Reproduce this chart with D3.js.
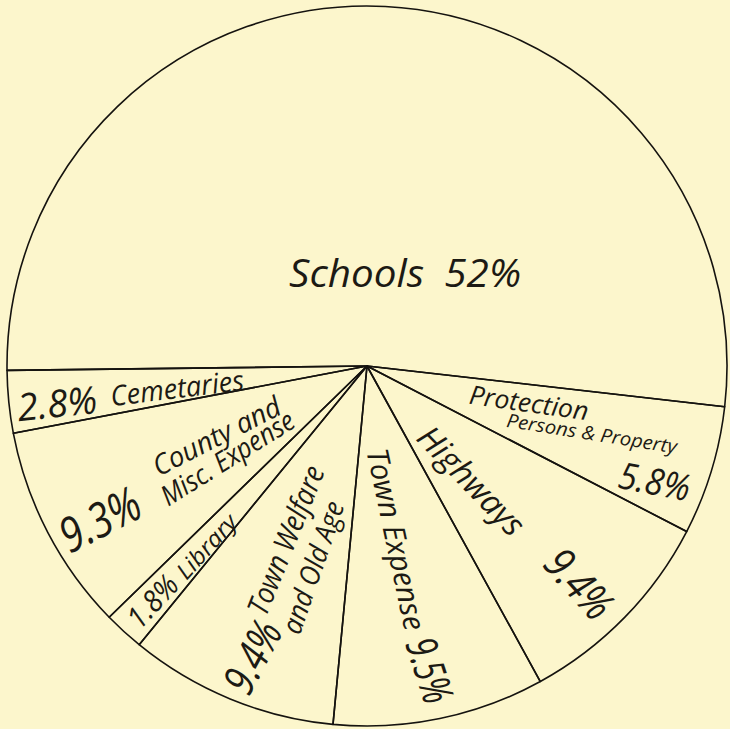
<!DOCTYPE html>
<html>
<head>
<meta charset="utf-8">
<script src="https://cdn.jsdelivr.net/npm/d3@7"></script>
<style>
  body { margin: 0; background: #fcf6cc; }
  #chart text {
    font-family: 'Open Sans', 'DejaVu Sans', sans-serif;
    font-style: italic;
    font-weight: 400;
    fill: #1c1a14;
  }
</style>
</head>
<body>
<div id="chart"></div>
<script>
// town expenditure shares (per cent)
const categories = ['Schools', 'Protection', 'Highways', 'Town Expense', 'Town Welfare', 'Library', 'County', 'Cemetaries'];
const shares = [52, 5.8, 9.4, 9.5, 9.4, 1.8, 9.3, 2.8];
const shareLabels = ['52%', '5.8%', '9.4%', '9.5%', '9.4%', '1.8%', '9.3%', '2.8%'];
const nameLines = [
  ['Schools'],
  ['Protection', 'Persons & Property'],
  ['Highways'],
  ['Town Expense'],
  ['Town Welfare', 'and Old Age'],
  ['Library'],
  ['County and', 'Misc. Expense'],
  ['Cemetaries']
];

// hand placement of the lettering: angle offset from slice middle (deg),
// distance as share of radius, rotation, font size, drawn length
const lettering = {
  'Schools': [{k: 'all', da: 19.1, rr: .282, rot: 0, size: 39, len: 232}],
  'Protection': [
    {k: 0, da: -4.4, rr: .461, rot: 8, size: 26, len: 120},
    {k: 1, da: -0.3, rr: .652, rot: 9, size: 19, len: 172},
    {k: 'pct', da: 4.7, rr: .860, rot: 11, size: 37, len: 72}],
  'Highways': [
    {k: 0, da: 3.1, rr: .431, rot: 46, size: 33, len: 138},
    {k: 'pct', da: 1.2, rr: .845, rot: 48, size: 44, len: 78}],
  'Town Expense': [
    {k: 0, da: 1.9, rr: .488, rot: 78, size: 30, len: 185},
    {k: 'pct', da: -0.2, rr: .862, rot: 72, size: 43, len: 66}],
  'Town Welfare': [
    {k: 'pct', da: -0.6, rr: .868, rot: -62, size: 44, len: 75},
    {k: 0, da: 2.9, rr: .534, rot: -68, size: 30, len: 158},
    {k: 1, da: -7.0, rr: .579, rot: -71, size: 28, len: 138}],
  'Library': [
    {k: 'pct', da: 0, rr: .885, rot: -47, size: 30, len: 60},
    {k: 0, da: -0.7, rr: .671, rot: -48, size: 23, len: 78}],
  'County': [
    {k: 'pct', da: -2.1, rr: .856, rot: -27, size: 48, len: 85},
    {k: 0, da: 2.9, rr: .461, rot: -27, size: 28, len: 140},
    {k: 1, da: -5.5, rr: .464, rot: -32, size: 28, len: 152}],
  'Cemetaries': [
    {k: 'pct', da: -0.9, rr: .867, rot: -6, size: 38, len: 80},
    {k: 0, da: -0.6, rr: .531, rot: -7, size: 28, len: 134}]
};

let width = 730;
let height = 729;
let radius = 360;
let start = -90.7 * Math.PI / 180;

let rows = categories.map((name, i) => ({
  name: name,
  value: shares[i],
  pct: shareLabels[i],
  lines: nameLines[i]
}));

let pie = d3.pie()
  .sort(null)
  .value(d => d.value)
  .startAngle(start)
  .endAngle(start + 2 * Math.PI);

let arc = d3.arc()
  .innerRadius(0)
  .outerRadius(radius);

let svg = d3.select('#chart').append('svg')
  .attr('width', width)
  .attr('height', height);

let g = svg.append('g')
  .attr('transform', 'translate(367,366)');

g.selectAll('path')
  .data(pie(rows))
  .enter()
  .append('path')
  .attr('d', arc)
  .style('fill', 'none')
  .style('stroke', '#15130f')
  .style('stroke-width', 1.6)
  .style('stroke-linejoin', 'round');

// one text per lettered line
let pieces = [];
pie(rows).forEach(d => {
  let mid = (d.startAngle + d.endAngle) / 2;
  lettering[d.data.name].forEach(p => {
    let a = mid + p.da * Math.PI / 180;
    let r = p.rr * radius;
    let txt = p.k === 'all' ? d.data.lines[0] + '\u2002' + d.data.pct
      : p.k === 'pct' ? d.data.pct : d.data.lines[p.k];
    pieces.push({x: Math.sin(a) * r, y: -Math.cos(a) * r, rot: p.rot, size: p.size, len: p.len, txt: txt});
  });
});

g.selectAll('text')
  .data(pieces)
  .enter()
  .append('text')
  .attr('transform', d => `translate(${d.x},${d.y}) rotate(${d.rot})`)
  .attr('text-anchor', 'middle')
  .attr('dominant-baseline', 'central')
  .attr('textLength', d => d.len)
  .attr('lengthAdjust', 'spacingAndGlyphs')
  .style('font-size', d => d.size + 'px')
  .text(d => d.txt);
</script>
</body>
</html>
